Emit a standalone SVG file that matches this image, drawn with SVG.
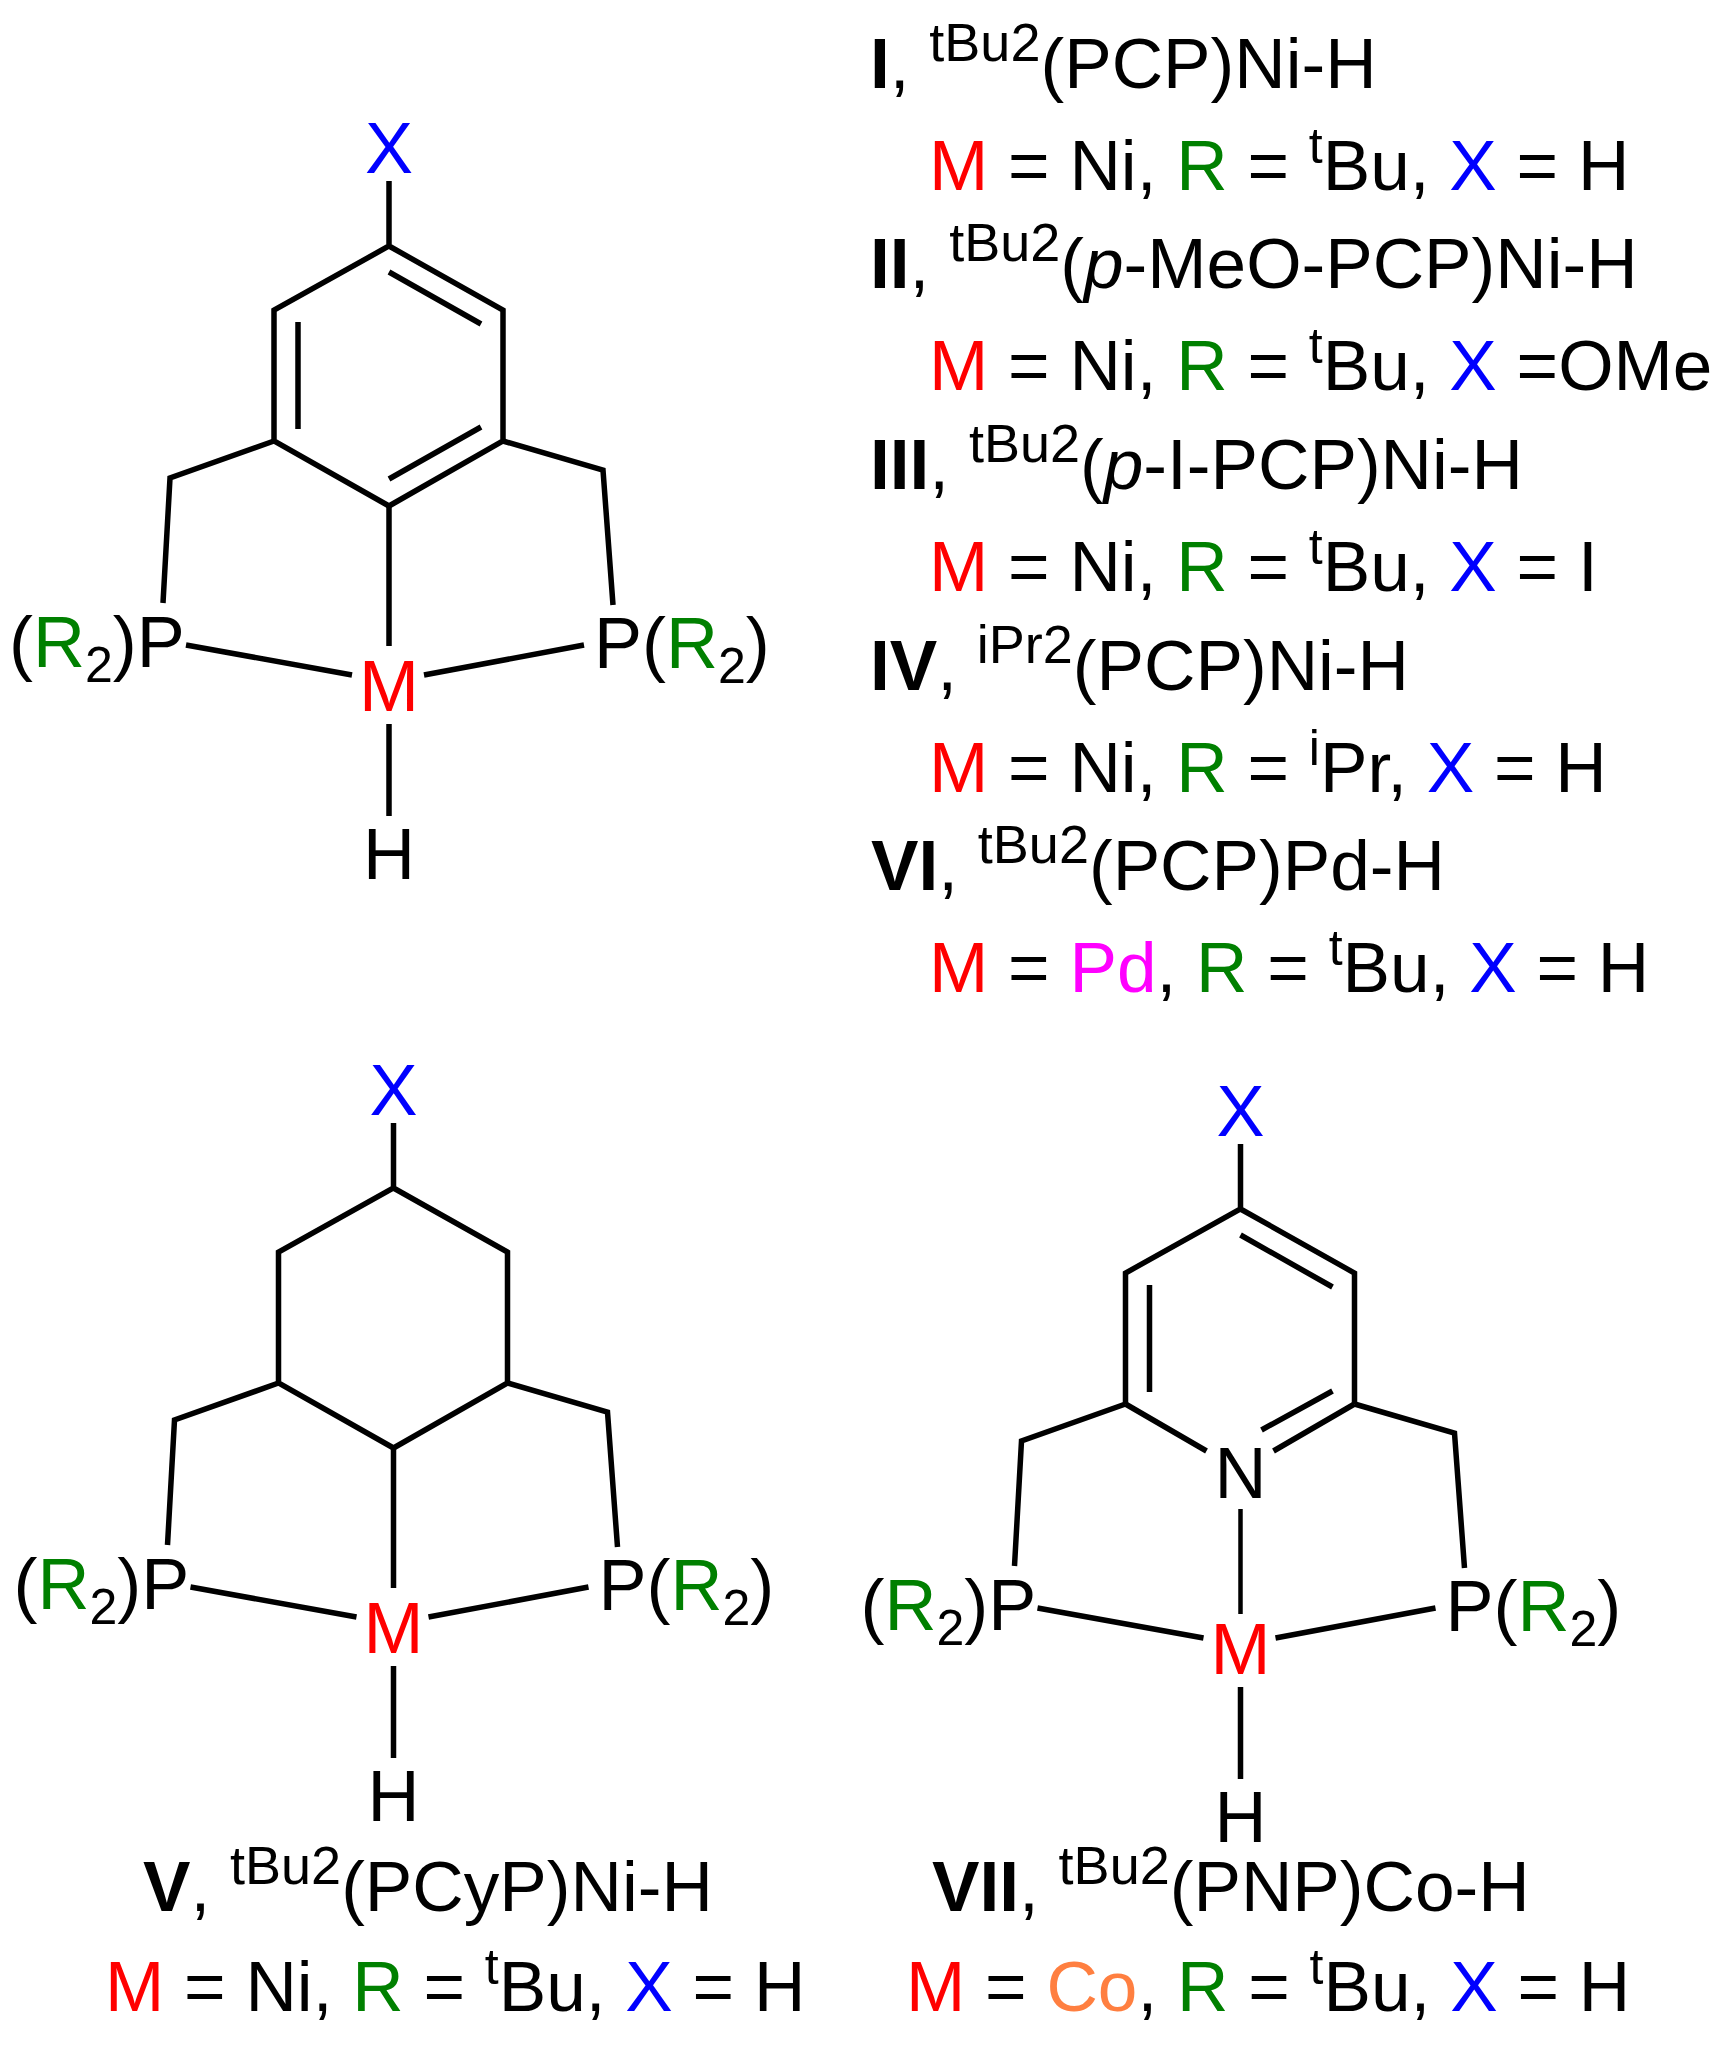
<svg xmlns="http://www.w3.org/2000/svg" width="1728" height="2046" viewBox="0 0 1728 2046">
<style>
text{font-family:"Liberation Sans",Arial,sans-serif;font-size:71.2px;fill:#000;white-space:pre}
text.l{font-size:72px}
.b{font-weight:bold}.i{font-style:italic}.s{font-size:54px}.u{font-size:50px}
.m{fill:#f00}.r{fill:#008000}.x{fill:#00f}.pd{fill:#f0f}.co{fill:#ff7f40}
.c{text-anchor:middle}
.bond{fill:none;stroke:#000;stroke-width:5.5;stroke-linecap:butt;stroke-linejoin:miter}
.thin{stroke-width:4.5}
</style>
<defs>
<g id="sideLabels">
<text class="l" x="9" y="667">(<tspan class="r">R</tspan><tspan class="u" dy="15">2</tspan><tspan dy="-15">)P</tspan></text>
<text class="l" x="594" y="668">P(<tspan class="r">R</tspan><tspan class="u" dy="15">2</tspan><tspan dy="-15">)</tspan></text>
<text class="l c m" x="389" y="711">M</text>
<text class="l c x" x="389" y="173">X</text>
<text class="l c" x="389" y="879">H</text>
</g>
</defs>
<g id="connectors">
<g id="bonds-top" class="bond">
<path d="M389 181V246L274 310V441L389 506L503 441V310L389 246"/>
<path d="M389 272L481 324M298 322V429M389 479L481 427"/>
<path d="M274 441L170 478L163 603M503 441L603 470L613 605"/>
<path d="M389 506V646M186 645L352 675M584 645L424 675M389 724V816"/>
</g>
<g id="bonds-left" class="bond" transform="translate(4.5 942)">
<path d="M389 181V246L274 310V441L389 506L503 441V310L389 246"/>
<path d="M274 441L170 478L163 603M503 441L603 470L613 605"/>
<path d="M389 506V646M186 645L352 675M584 645L424 675M389 724V816"/>
</g>
<g id="bonds-right" class="bond" transform="translate(851.5 963)">
<path d="M389 181V246L274 310V441M503 441V310L389 246"/>
<path d="M389 272L481 324M298 322V429"/>
<path d="M274 441L355 488M503 441L422 488M410 467L481 428"/>
<path d="M274 441L170 478L163 603M503 441L603 470L613 605"/>
<path d="M186 645L352 675M584 645L424 675M389 724V816"/>
<path class="thin" d="M389 546V651"/>
</g>
</g>
<g id="molecule-top"><use href="#sideLabels"/></g>
<g id="molecule-left"><use href="#sideLabels" transform="translate(4.5 942)"/></g>
<g id="molecule-right">
<use href="#sideLabels" transform="translate(851.5 963)"/>
<text class="l c" x="1240.5" y="1498">N</text>
</g>
<g id="legend">
<text x="870" y="88"><tspan class="b">I</tspan>, <tspan class="s" dy="-27">tBu2</tspan><tspan dy="27">(PCP)Ni-H</tspan></text>
<text x="929" y="190"><tspan class="m">M</tspan> = Ni, <tspan class="r">R</tspan> = <tspan class="u" dy="-27">t</tspan><tspan dy="27">Bu, </tspan><tspan class="x">X</tspan> = H</text>
<text x="870" y="288"><tspan class="b">II</tspan>, <tspan class="s" dy="-27">tBu2</tspan><tspan dy="27">(</tspan><tspan class="i">p</tspan>-MeO-PCP)Ni-H</text>
<text x="929" y="390"><tspan class="m">M</tspan> = Ni, <tspan class="r">R</tspan> = <tspan class="u" dy="-27">t</tspan><tspan dy="27">Bu, </tspan><tspan class="x">X</tspan> =OMe</text>
<text x="870" y="489"><tspan class="b">III</tspan>, <tspan class="s" dy="-27">tBu2</tspan><tspan dy="27">(</tspan><tspan class="i">p</tspan>-I-PCP)Ni-H</text>
<text x="929" y="591"><tspan class="m">M</tspan> = Ni, <tspan class="r">R</tspan> = <tspan class="u" dy="-27">t</tspan><tspan dy="27">Bu, </tspan><tspan class="x">X</tspan> = I</text>
<text x="870" y="690"><tspan class="b">IV</tspan>, <tspan class="s" dy="-27">iPr2</tspan><tspan dy="27">(PCP)Ni-H</tspan></text>
<text x="929" y="792"><tspan class="m">M</tspan> = Ni, <tspan class="r">R</tspan> = <tspan class="u" dy="-27">i</tspan><tspan dy="27">Pr, </tspan><tspan class="x">X</tspan> = H</text>
<text x="871" y="890"><tspan class="b">VI</tspan>, <tspan class="s" dy="-27">tBu2</tspan><tspan dy="27">(PCP)Pd-H</tspan></text>
<text x="929" y="992"><tspan class="m">M</tspan> = <tspan class="pd">Pd</tspan>, <tspan class="r">R</tspan> = <tspan class="u" dy="-27">t</tspan><tspan dy="27">Bu, </tspan><tspan class="x">X</tspan> = H</text>
</g>
<g id="caption-left">
<text x="143" y="1911"><tspan class="b">V</tspan>, <tspan class="s" dy="-27">tBu2</tspan><tspan dy="27">(PCyP)Ni-H</tspan></text>
<text x="105" y="2011"><tspan class="m">M</tspan> = Ni, <tspan class="r">R</tspan> = <tspan class="u" dy="-27">t</tspan><tspan dy="27">Bu, </tspan><tspan class="x">X</tspan> = H</text>
</g>
<g id="caption-right">
<text x="932" y="1911"><tspan class="b">VII</tspan>, <tspan class="s" dy="-27">tBu2</tspan><tspan dy="27">(PNP)Co-H</tspan></text>
<text x="906" y="2011"><tspan class="m">M</tspan> = <tspan class="co">Co</tspan>, <tspan class="r">R</tspan> = <tspan class="u" dy="-27">t</tspan><tspan dy="27">Bu, </tspan><tspan class="x">X</tspan> = H</text>
</g>
</svg>
